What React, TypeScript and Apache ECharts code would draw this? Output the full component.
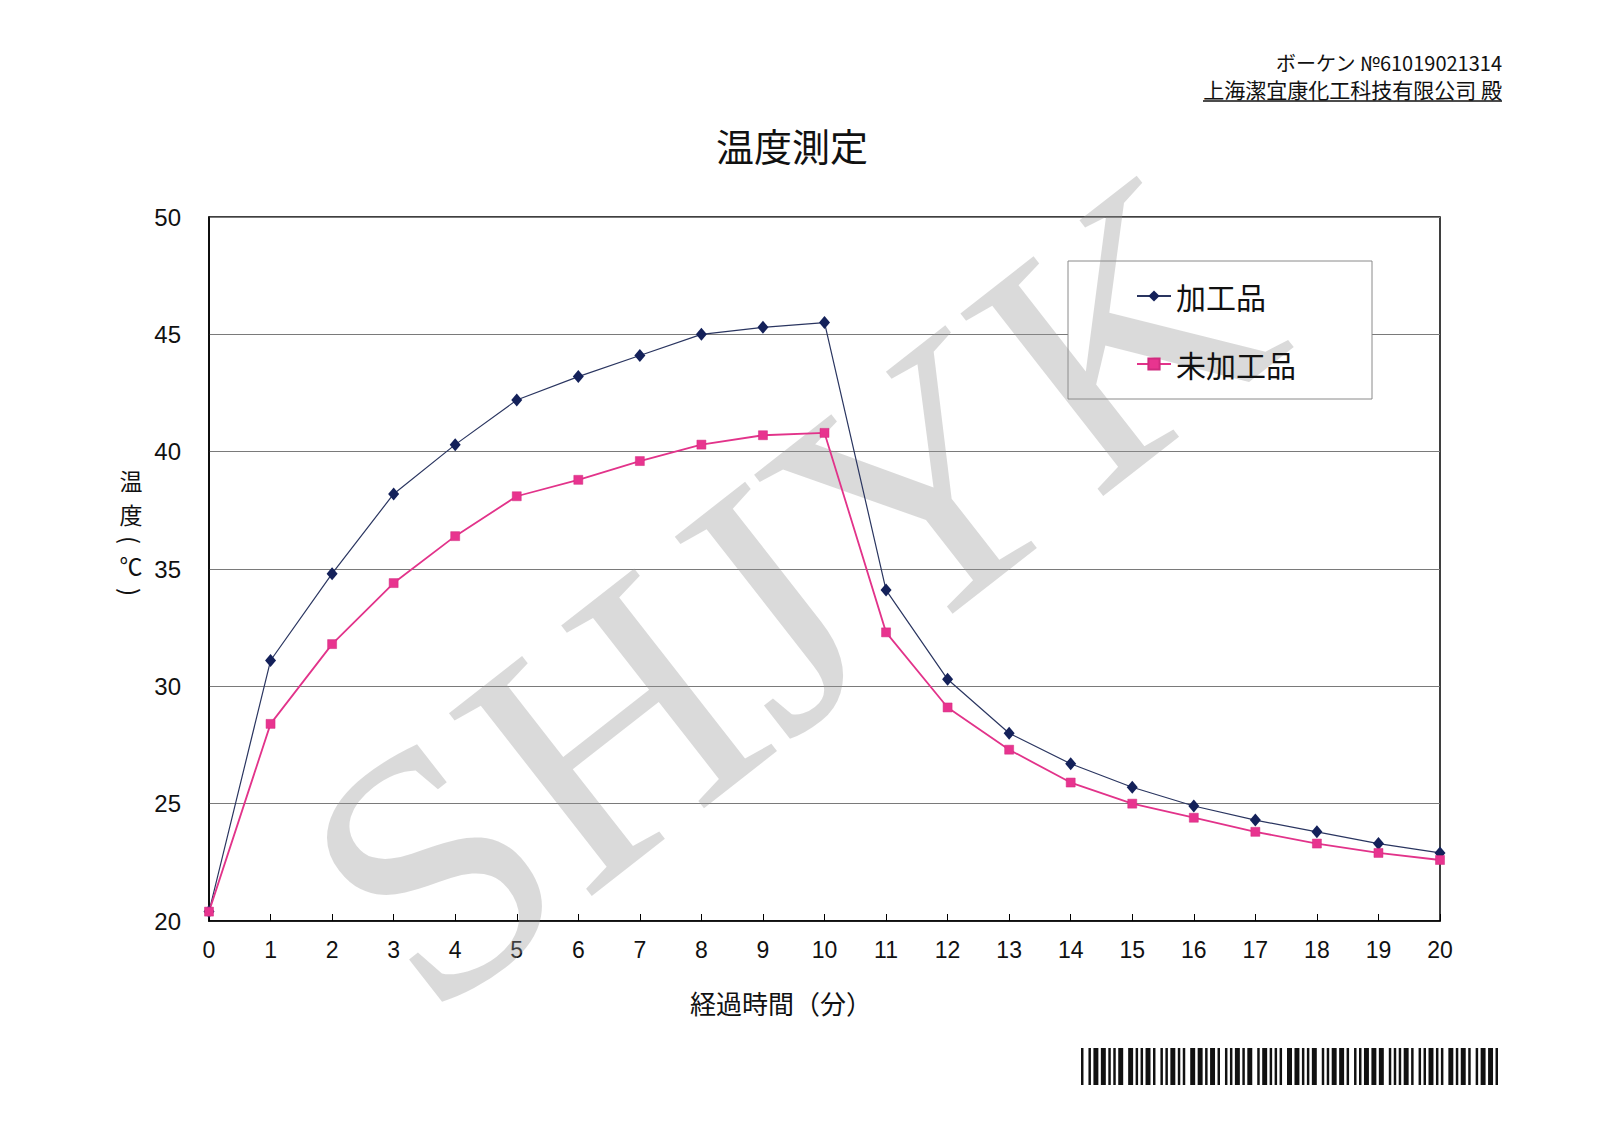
import React, { useEffect, useRef } from "react";
import * as echarts from "echarts";

const minutes = ["0","1","2","3","4","5","6","7","8","9","10","11","12","13","14","15","16","17","18","19","20"];
const processed = [20.4, 31.1, 34.8, 38.2, 40.3, 42.2, 43.2, 44.1, 45.0, 45.3, 45.5, 34.1, 30.3, 28.0, 26.7, 25.7, 24.9, 24.3, 23.8, 23.3, 22.9];
const unprocessed = [20.4, 28.4, 31.8, 34.4, 36.4, 38.1, 38.8, 39.6, 40.3, 40.7, 40.8, 32.3, 29.1, 27.3, 25.9, 25.0, 24.4, 23.8, 23.3, 22.9, 22.6];
const seriesNames = ["加工品", "未加工品"];
const yTicks = { min: 20, max: 50, interval: 5 };

const titleText = "温度測定";
const xName = "経過時間（分）";
const yNameChars = ["温", "度", "(", "℃", ")"];
const headerLine1 = "ボーケン №61019021314";
const headerLine2 = "上海潔宜康化工科技有限公司 殿";
const watermark = "SHJYK";
const barcodeText = "*61019021314*";

const code39: Record<string, string> = {
  "0": "101001101101",
  "1": "110100101011",
  "2": "101100101011",
  "3": "110110010101",
  "4": "101001101011",
  "6": "101100110101",
  "9": "101100101101",
  "*": "100101101101",
};

function barcodeRects(x0: number, y0: number, w: number, h: number) {
  const mods = barcodeText.split("").map((c) => code39[c]).join("0");
  const mw = w / mods.length;
  const out: any[] = [];
  let i = 0;
  while (i < mods.length) {
    if (mods[i] === "1") {
      let j = i;
      while (j < mods.length && mods[j] === "1") j++;
      out.push({
        type: "rect",
        shape: { x: x0 + i * mw, y: y0, width: (j - i) * mw, height: h },
        style: { fill: "#111" },
      });
      i = j;
    } else i++;
  }
  return out;
}

export default function App() {
  const ref = useRef<HTMLDivElement>(null);
  useEffect(() => {
    if (!ref.current) return;
    const chart = echarts.init(ref.current, null, { renderer: "svg" });
    const cjk = '"Noto Sans CJK JP", "Noto Sans", sans-serif';
    const num = '"Liberation Sans", Arial, sans-serif';
    const yNameY = [480, 514, 540, 565, 592];
    const yNameSize = [23, 23, 24, 23, 24];
    const yNameRot = [0, 0, -Math.PI / 2, 0, -Math.PI / 2];
    chart.setOption({
      animation: false,
      backgroundColor: "#ffffff",
      title: {
        text: titleText,
        left: 787,
        top: 120,
        textAlign: "center",
        textStyle: { fontFamily: cjk, fontSize: 38, fontWeight: "normal", color: "#111" },
      },
      legend: {
        data: seriesNames,
        orient: "vertical",
        left: 1131,
        top: 276,
        itemWidth: 34,
        itemHeight: 14,
        itemGap: 38,
        textStyle: { fontFamily: cjk, fontSize: 30, color: "#111" },
        z: 5,
      },
      grid: {
        left: 209,
        top: 217,
        width: 1231,
        height: 704,
        show: true,
        borderColor: "#000",
        borderWidth: 1.5,
        backgroundColor: "transparent",
      },
      xAxis: {
        type: "category",
        data: minutes,
        boundaryGap: false,
        axisLine: { show: true, lineStyle: { color: "#000", width: 1.5 } },
        axisTick: { show: true, inside: true, length: 7, lineStyle: { color: "#000" } },
        axisLabel: { fontFamily: num, fontSize: 23, color: "#111", margin: 17 },
        splitLine: { show: false },
      },
      yAxis: {
        type: "value",
        min: yTicks.min,
        max: yTicks.max,
        interval: yTicks.interval,
        axisLine: { show: true, lineStyle: { color: "#000", width: 1.5 } },
        axisTick: { show: false },
        axisLabel: { fontFamily: num, fontSize: 24, color: "#111", margin: 28 },
        splitLine: { show: true, lineStyle: { color: "#7a7a7a", width: 1 } },
      },
      graphic: [
        {
          type: "rect",
          z: 1,
          shape: { x: 1068, y: 261, width: 304, height: 138 },
          style: { fill: "#fff", stroke: "#8a8a8a", lineWidth: 1 },
        },
        {
          type: "text",
          z: 1,
          z2: 10,
          x: 789,
          y: 590,
          rotation: (38 * Math.PI) / 180,
          style: {
            text: watermark,
            font: '354px "Liberation Serif", "DejaVu Serif", serif',
            fill: "rgba(150,150,150,0.35)",
            align: "center",
            verticalAlign: "middle",
          },
        },
        ...yNameChars.map((ch, i) => ({
          type: "text",
          x: 131,
          y: yNameY[i],
          rotation: yNameRot[i],
          style: {
            text: ch,
            font: `${yNameSize[i]}px ${cjk}`,
            lineHeight: yNameSize[i],
            fill: "#111",
            align: "center",
            verticalAlign: "middle",
          },
        })),
        {
          type: "text",
          x: 781,
          y: 1002,
          style: {
            text: xName,
            font: `26px ${cjk}`,
            fill: "#111",
            align: "center",
            verticalAlign: "middle",
          },
        },
        {
          type: "text",
          x: 1502,
          y: 62,
          style: {
            text: headerLine1,
            font: `20px ${cjk}`,
            fill: "#111",
            align: "right",
            verticalAlign: "middle",
          },
        },
        {
          type: "text",
          x: 1502,
          y: 89,
          style: {
            text: headerLine2,
            font: `21px ${cjk}`,
            fill: "#111",
            align: "right",
            verticalAlign: "middle",
          },
        },
        {
          type: "line",
          shape: { x1: 1203, y1: 101, x2: 1502, y2: 101 },
          style: { stroke: "#111", lineWidth: 1.5 },
        },
        {
          type: "group",
          children: barcodeRects(1081, 1048, 417, 37),
        },
      ],
      series: [
        {
          name: seriesNames[0],
          type: "line",
          data: processed,
          symbol: "diamond",
          symbolSize: [11, 13],
          z: 3,
          lineStyle: { color: "#2a3560", width: 1.2 },
          itemStyle: { color: "#14215a" },
        },
        {
          name: seriesNames[1],
          type: "line",
          data: unprocessed,
          symbol: "rect",
          symbolSize: 9,
          z: 3,
          lineStyle: { color: "#e2338a", width: 1.8 },
          itemStyle: { color: "#e8348f", borderColor: "#d02a7e", borderWidth: 0.5 },
        },
      ],
    });
    return () => chart.dispose();
  }, []);
  return (
    <div
      ref={ref}
      style={{ position: "absolute", left: 0, top: 0, width: 1600, height: 1131 }}
    />
  );
}
